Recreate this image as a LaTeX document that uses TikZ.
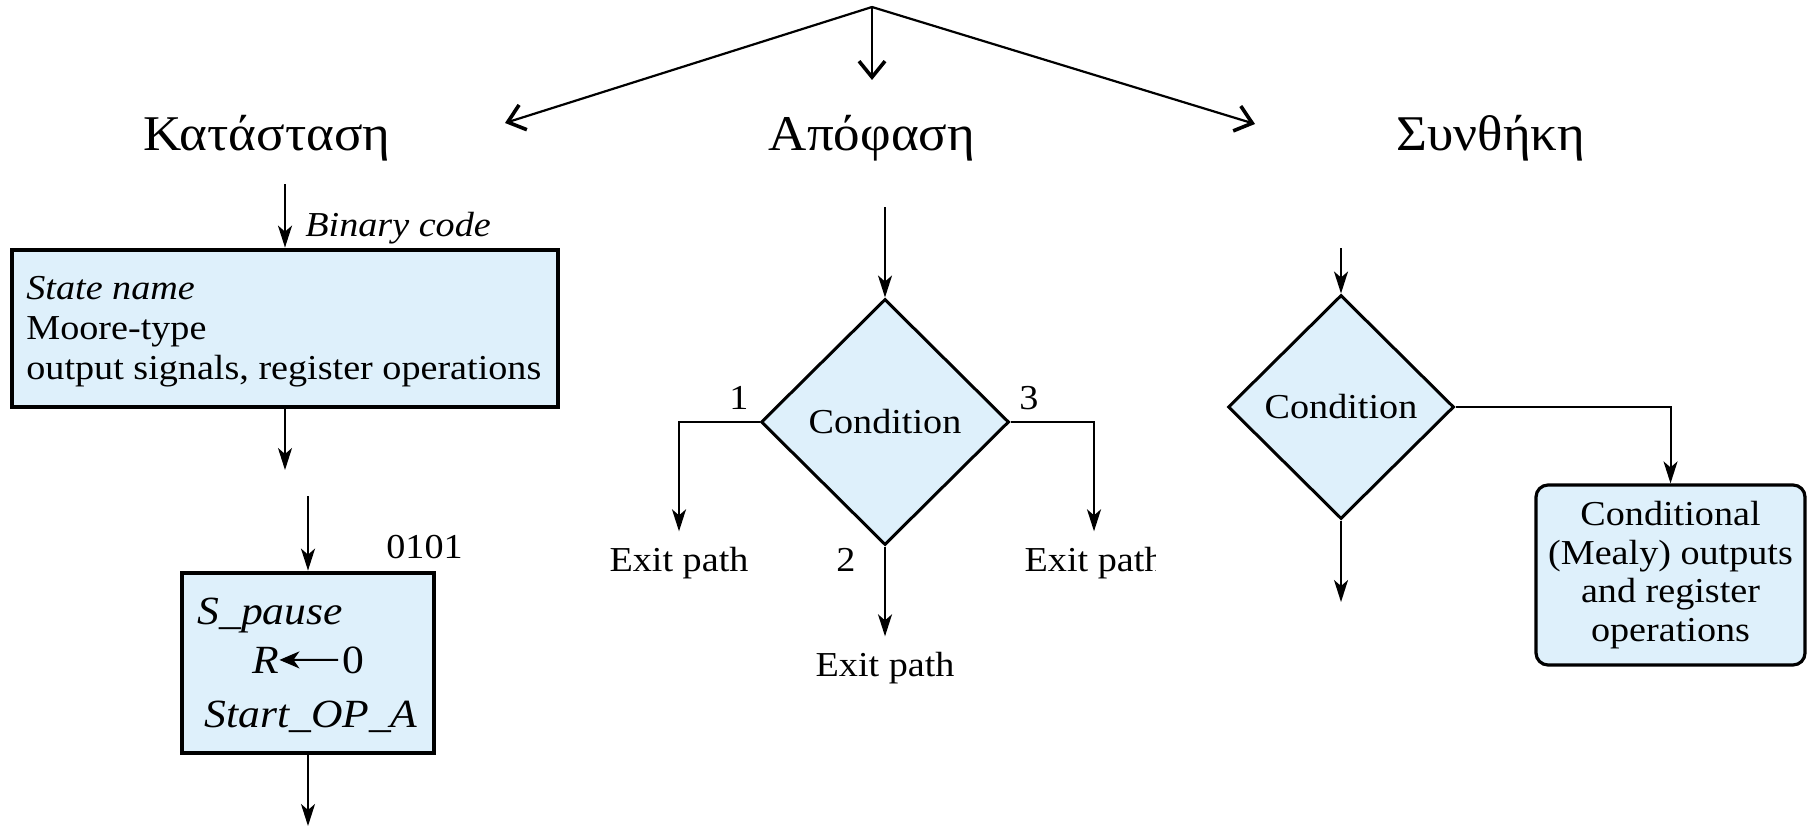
\documentclass[tikz,border=0pt]{standalone}
\usepackage{fontspec}
\setmainfont{Liberation Serif}[FakeStretch=1.09]
\newfontfamily\headfont{Liberation Serif}[FakeStretch=1.06]
\usetikzlibrary{shapes.geometric,arrows.meta}
\definecolor{boxfill}{RGB}{222,240,251}

\begin{document}
\begin{tikzpicture}[x=0.5pt,y=-0.5pt,
  conn/.style={line width=1pt,-{Stealth[length=11pt,width=7pt,inset=3pt]}},
  toparrow/.style={line width=1.1pt,-{Straight Barb[length=8pt,width=13pt,line width=1.8pt]}},
  heading/.style={font=\headfont\fontsize{25}{28}\selectfont,inner sep=0pt},
  body/.style={font=\fontsize{17.5}{20}\selectfont},
  regtext/.style={font=\fontsize{20}{20}\selectfont,inner sep=0pt,anchor=base west},
  statebox/.style={draw,line width=2.4pt,fill=boxfill,rectangle},
  decision/.style={draw,line width=1.5pt,fill=boxfill,diamond,inner sep=0pt,
    font=\fontsize{17.5}{20}\selectfont},
  mealybox/.style={draw,line width=1.6pt,fill=boxfill,rounded corners=6pt,
    align=center,font=\fontsize{17.5}{19.4}\selectfont},
  exitlabel/.style={body,inner xsep=0pt,inner ysep=7.5pt,anchor=base},
  num/.style={body,inner sep=0pt,anchor=base},
]
\useasboundingbox (0,0) rectangle (1807,829);

% headings and the three arrows fanning out from the top
\node[heading,anchor=base] (hstate) at (267,150) {Κατάσταση};
\node[heading,anchor=base] (hdec)   at (872,150) {Απόφαση};
\node[heading,anchor=base] (hcond)  at (1491,150) {Συνθήκη};

\coordinate (apex) at (872,7);
\coordinate (tipL) at (505,123);
\coordinate (tipM) at (872,80);
\coordinate (tipR) at (1255,124);
\draw[toparrow] (apex) -- (tipL);
\draw[toparrow] (apex) -- (tipM);
\draw[toparrow] (apex) -- (tipR);

% state box (generic)
\node[statebox,minimum width=273pt,minimum height=78.5pt] (sbox) at (285,328.5) {};
\node[body,align=left,inner sep=0pt,anchor=west] (stext) at (26,332)
  {{\itshape State name}\\Moore-type\\output signals, register operations};
\node[body,inner sep=0pt,anchor=base west] (bcode) at (305,236) {\itshape Binary code};
\coordinate (sin) at (285,184);
\coordinate (sout) at (285,470);
\draw[conn] (sin) -- (sbox.north);
\draw[conn] (sbox.south) -- (sout);

% state box (example)
\node[statebox,minimum width=126pt,minimum height=90pt] (pbox) at (308,663) {};
\node[body,inner sep=0pt,anchor=base west] (code) at (386,558) {0101};
\node[regtext] (spause) at (197,624) {\itshape S\_pause};
\node[regtext] (rreg) at (252,673) {\itshape R};
\node[regtext] (zero) at (342,673) {0};
\node[regtext] (startop) at (204,727) {\itshape Start\_OP\_A};
\draw[line width=1pt,-{Stealth[length=10pt,width=8.5pt,inset=3pt]},shorten <=2pt] (zero.west) -- (rreg.east);
\coordinate (pin) at (308,496);
\coordinate (pout) at (308,826);
\draw[conn] (pin) -- (pbox.north);
\draw[conn] (pbox.south) -- (pout);

% decision box with three exits
\node[decision,minimum width=124pt,minimum height=123pt] (dec) at (885,422) {Condition};
\coordinate (din) at (885,207);
\draw[conn] (din) -- (dec.north);
\node[exitlabel] (exit1) at (679,571) {Exit path};
\node[exitlabel] (exit2) at (885,676) {Exit path};
\begin{scope}
  \clip (1000,520) rectangle (1155,600);
  \node[exitlabel] (exit3) at (1094,571) {Exit path};
\end{scope}
\draw[conn] (dec.west) -| (exit1.north);
\draw[conn] (dec.south) -- (exit2.north);
\draw[conn] (dec.east) -| (exit3.north);
\node[num] (n1) at (739,409) {1};
\node[num] (n2) at (846,571) {2};
\node[num] (n3) at (1029,409) {3};

% conditional box
\node[decision,minimum width=113pt,minimum height=112pt] (cond) at (1341,407) {Condition};
\coordinate (cin) at (1341,248);
\coordinate (cout) at (1341,602);
\draw[conn] (cin) -- (cond.north);
\draw[conn] (cond.south) -- (cout);
\node[mealybox,minimum width=134.5pt,minimum height=90pt] (mealy) at (1670.5,575)
  {Conditional\\(Mealy) outputs\\and register\\operations};
\draw[conn] (cond.east) -| (mealy.north);
\end{tikzpicture}
\end{document}
